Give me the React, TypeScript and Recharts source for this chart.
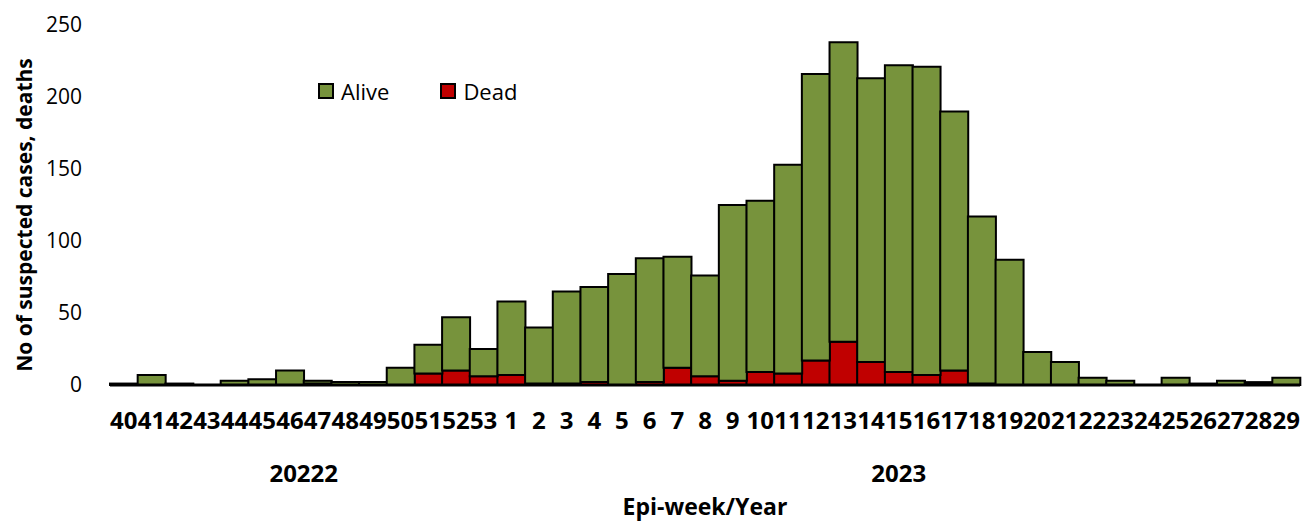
import React from 'react';
import { BarChart, Bar, XAxis, YAxis, Legend } from 'recharts';

const weeks = ['40','41','42','43','44','45','46','47','48','49','50','51','52','53',
  '1','2','3','4','5','6','7','8','9','10','11','12','13','14','15','16','17','18','19','20','21','22','23','24','25','26','27','28','29'];
const alive = [1,7,1,0,3,4,10,2,2,2,12,20,37,19,
  51,39,64,66,77,86,77,70,122,119,145,199,208,197,213,214,180,116,87,23,16,5,3,0,5,1,3,1,5];
const dead = [0,0,0,0,0,0,0,1,0,0,0,8,10,6,
  7,1,1,2,0,2,12,6,3,9,8,17,30,16,9,7,10,1,0,0,0,0,0,0,0,0,0,1,0];
const yearLabels = ['20222', '2023'];
const yearStartWeek = ['40', '1'];
const yTicks = [0, 50, 100, 150, 200, 250];

const GREEN = '#77933C';
const RED = '#C00000';
const FONT = "'Open Sans', sans-serif";

const data = weeks.map((w, i) => ({ week: w, pos: i + 0.5, alive: alive[i], dead: dead[i] }));
const groupStarts = yearStartWeek.map((w) => weeks.indexOf(w));
const groupMids = groupStarts.map((s, i) => (s + (i + 1 < groupStarts.length ? groupStarts[i + 1] : weeks.length)) / 2);

const LegendContent = () => (
  <div style={{ display: 'flex', alignItems: 'center', fontFamily: FONT, fontSize: 22, color: '#000' }}>
    {[{ n: 'Alive', c: GREEN }, { n: 'Dead', c: RED }].map((it, i) => (
      <div key={it.n} style={{ display: 'flex', alignItems: 'center', marginRight: i === 0 ? 51 : 0 }}>
        <span style={{ display: 'inline-block', width: 12, height: 12, border: '2px solid #000', background: it.c, marginRight: 7 }} />
        <span>{it.n}</span>
      </div>
    ))}
  </div>
);

export default function App() {
  return (
    <div style={{ position: 'absolute', left: 0, top: 0, width: 1304, height: 522, background: '#fff' }}>
      <BarChart width={1304} height={522} data={data} barCategoryGap={0} margin={{ top: 25, right: 4, left: 0, bottom: 0 }}>
        <YAxis
          domain={[0, 250]}
          ticks={yTicks}
          axisLine={false}
          tickLine={false}
          tickSize={0}
          tickMargin={28}
          width={110}
          tick={{ fontSize: 21, fill: '#000', fontFamily: FONT }}
          label={(props: any) => {
            const vb = props.viewBox;
            const cx = vb.x + 24;
            const cy = vb.y + vb.height / 2 + 10;
            return (
              <text x={cx} y={cy} transform={`rotate(-90, ${cx}, ${cy})`} textAnchor="middle" dominantBaseline="central"
                fontSize={21} fontWeight="bold" fontFamily={FONT} fill="#000">
                No of suspected cases, deaths
              </text>
            );
          }}
        />
        <XAxis
          dataKey="week"
          interval={0}
          height={50}
          tickLine={false}
          tickSize={0}
          tickMargin={27}
          axisLine={{ stroke: '#000', strokeWidth: 3 }}
          tick={{ fontSize: 24, fontWeight: 'bold', fill: '#000', fontFamily: FONT }}
        />
        <XAxis
          xAxisId="year"
          type="number"
          dataKey="pos"
          domain={[0, weeks.length]}
          allowDataOverflow
          ticks={groupMids}
          tickFormatter={(v: number) => yearLabels[groupMids.indexOf(v)] ?? ''}
          interval={0}
          height={87}
          axisLine={false}
          tickLine={false}
          tickSize={0}
          tickMargin={30}
          tick={{ fontSize: 24, fontWeight: 'bold', fill: '#000', fontFamily: FONT }}
          label={(props: any) => {
            const vb = props.viewBox;
            return (
              <text x={vb.x + vb.width / 2} y={vb.y + 80} textAnchor="middle" fontSize={23} fontWeight="bold" fontFamily={FONT} fill="#000">
                Epi-week/Year
              </text>
            );
          }}
        />
        <Legend
          layout="horizontal"
          verticalAlign="middle"
          align="center"
          content={<LegendContent />}
          wrapperStyle={{ position: 'absolute', left: 318, top: 76, width: 'auto' }}
        />
        <Bar dataKey="dead" stackId="a" fill={RED} stroke="#000" strokeWidth={2} isAnimationActive={false} />
        <Bar dataKey="alive" stackId="a" fill={GREEN} stroke="#000" strokeWidth={2} isAnimationActive={false} />
      </BarChart>
    </div>
  );
}
